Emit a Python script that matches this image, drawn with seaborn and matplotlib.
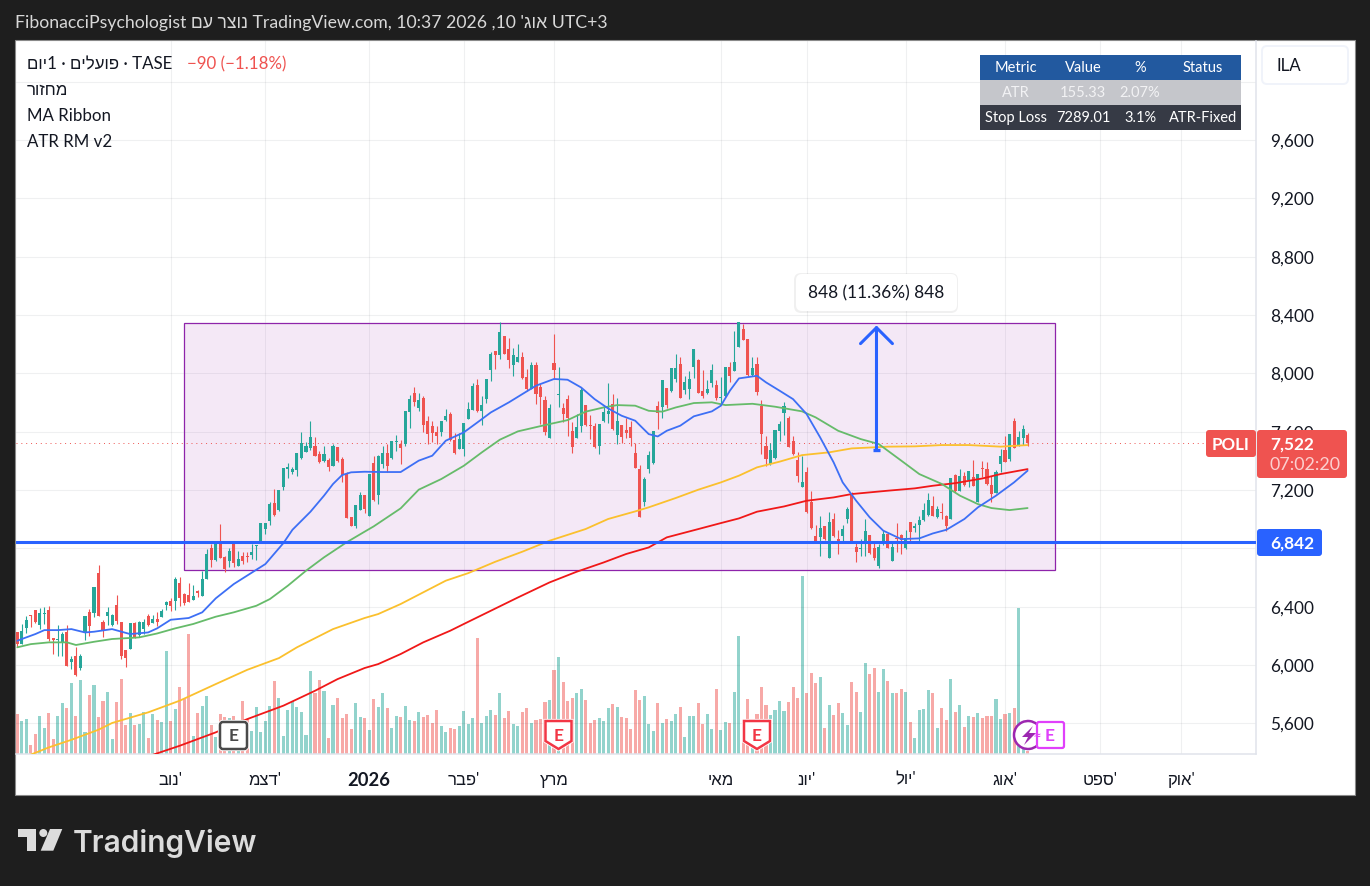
import numpy as np
import pandas as pd
import matplotlib
matplotlib.use("Agg")
import matplotlib.pyplot as plt
import seaborn as sns
from matplotlib.patches import FancyBboxPatch, Polygon, Rectangle, PathPatch, Circle
from matplotlib.path import Path
from matplotlib.transforms import Affine2D, ScaledTranslation
import matplotlib.patheffects as pe

# daily candles, one row of values per ten bars
opens = [
    6228, 6143, 6251, 6342, 6377, 6274, 6349, 6377, 6182, 6173,
    6150, 6228, 6022, 6059, 5977, 6223, 6361, 6356, 6630, 6297,
    6333, 6274, 6411, 6292, 6105, 6109, 6287, 6205, 6246, 6338,
    6287, 6315, 6326, 6411, 6441, 6441, 6559, 6484, 6479, 6447,
    6509, 6475, 6589, 6799, 6722, 6845, 6738, 6715, 6841, 6676,
    6745, 6749, 6754, 6818, 6845, 6932, 6989, 7110, 7065, 7218,
    7343, 7325, 7339, 7417, 7462, 7485, 7503, 7446, 7401, 7407,
    7362, 7492, 7412, 7309, 7012, 6950, 7065, 7167,
    7023, 7385, 7165, 7378, 7453, 7419, 7526, 7515, 7515, 7737,
    7865, 7762, 7833, 7673, 7636, 7595, 7599, 7677, 7718, 7545,
    7481, 7481, 7686, 7750, 7919, 7739, 7823, 8022, 8150, 8127,
    8253, 8166, 8057, 8079, 8111, 7972, 7892, 8057, 7906, 7817,
    7558, 8070, 7851, 7762, 7823, 7606, 7558, 7641, 7782, 7645,
    7641, 7503, 7675, 7723, 7789, 7577, 7645, 7611, 7629, 7453,
    7343, 7119, 7343, 7385, 7773, 7771, 7899, 7881, 7961, 8063,
    7887, 7892, 8041, 8093,
    7881, 7865, 7933, 7919, 7833, 7842, 8043, 8018, 8182, 8303,
    8235, 7988, 8063, 7773, 7503, 7378, 7417, 7606, 7727, 7691,
    7535, 7405, 7222, 7323, 7115, 6882, 6875, 6950, 6731, 7001,
    6863, 6886, 7001, 7179, 6809, 6797, 6836, 6891, 6799, 6676,
    6841, 6898, 6715, 6873, 6891, 6799, 6978, 6941, 6959, 6996,
    7030, 7092, 7012, 7046, 7019, 7001, 7302, 7195, 7293, 7270,
    7291, 7119, 7348, 7343, 7234, 7179, 7378, 7474, 7412, 7673,
    7508, 7554, 7577,
]
closes = [
    6143, 6235, 6308, 6338, 6292, 6356, 6356, 6178, 6173, 6178,
    6212, 5995, 6041, 5931, 6059, 6333, 6269, 6532, 6338, 6235,
    6361, 6342, 6303, 6063, 6045, 6287, 6189, 6297, 6292, 6274,
    6315, 6297, 6372, 6429, 6406, 6589, 6457, 6425, 6434, 6470,
    6493, 6589, 6761, 6722, 6829, 6731, 6658, 6783, 6699, 6726,
    6715, 6738, 6772, 6822, 6973, 6973, 7103, 7028, 7199, 7350,
    7355, 7343, 7453, 7522, 7503, 7563, 7430, 7394, 7446, 7359,
    7499, 7401, 7302, 7010, 6950, 7097, 7165, 7069,
    7309, 7133, 7435, 7451, 7366, 7535, 7533, 7485, 7739, 7823,
    7801, 7817, 7647, 7583, 7590, 7572, 7670, 7705, 7545, 7453,
    7549, 7659, 7755, 7913, 7743, 7782, 7961, 8132, 8125, 8281,
    8132, 8093, 8125, 8109, 7967, 7892, 8057, 7858, 7839, 7595,
    7762, 8025, 7855, 7721, 7691, 7497, 7634, 7887, 7645, 7641,
    7497, 7652, 7732, 7739, 7618, 7675, 7563, 7590, 7558, 7350,
    7017, 7275, 7439, 7602, 7727, 7954, 7782, 8034, 8034, 7830,
    7942, 7961, 8166, 7865,
    7846, 7892, 8025, 7828, 7837, 8043, 7979, 8079, 8349, 8230,
    7988, 8036, 7874, 7586, 7412, 7474, 7611, 7652, 7773, 7497,
    7444, 7298, 7252, 7046, 6937, 6841, 6937, 6863, 6978, 6882,
    6829, 6932, 7069, 6836, 6772, 6804, 6918, 6765, 6731, 6811,
    6898, 6804, 6809, 6863, 6859, 6868, 6909, 6950, 6994, 7060,
    7133, 7023, 7069, 7042, 6950, 7279, 7195, 7298, 7234, 7327,
    7229, 7309, 7343, 7241, 7172, 7321, 7435, 7394, 7583, 7490,
    7565, 7618, 7522,
]
highs = [
    6228, 6281, 6338, 6342, 6377, 6388, 6395, 6402, 6182, 6274,
    6228, 6274, 6063, 6121, 6075, 6333, 6383, 6532, 6685, 6308,
    6395, 6349, 6479, 6297, 6105, 6287, 6292, 6303, 6315, 6349,
    6342, 6365, 6383, 6441, 6457, 6601, 6601, 6493, 6562, 6548,
    6516, 6646, 6795, 6829, 6841, 6966, 6745, 6799, 6841, 6783,
    6772, 6772, 6829, 6822, 6973, 6973, 7115, 7206, 7199, 7350,
    7385, 7355, 7453, 7595, 7531, 7673, 7561, 7469, 7503, 7417,
    7515, 7492, 7423, 7321, 7012, 7097, 7188, 7167,
    7309, 7435, 7439, 7503, 7515, 7535, 7577, 7545, 7739, 7851,
    7903, 7865, 7842, 7709, 7675, 7636, 7675, 7755, 7732, 7590,
    7590, 7659, 7801, 7933, 7961, 7842, 7961, 8143, 8150, 8349,
    8253, 8239, 8171, 8201, 8148, 8029, 8075, 8079, 7926, 7842,
    7789, 8269, 8041, 7796, 7851, 7663, 7721, 7903, 7782, 7714,
    7659, 7652, 7782, 7933, 7858, 7828, 7645, 7691, 7675, 7522,
    7371, 7286, 7469, 7602, 7807, 7954, 7899, 8034, 8132, 8109,
    7983, 8018, 8166, 8098,
    8025, 7956, 8063, 7956, 7972, 8043, 8075, 8292, 8349, 8338,
    8235, 8109, 8109, 7817, 7567, 7522, 7611, 7675, 7801, 7705,
    7567, 7458, 7430, 7355, 7195, 6959, 7019, 6950, 7051, 7042,
    6927, 6959, 7081, 7188, 6836, 6863, 7001, 6891, 6836, 6827,
    6927, 6905, 6836, 6973, 6898, 6927, 6982, 6973, 7023, 7108,
    7179, 7156, 7092, 7110, 7028, 7279, 7309, 7343, 7321, 7332,
    7405, 7309, 7401, 7389, 7293, 7339, 7481, 7572, 7583, 7693,
    7604, 7645, 7590,
]
lows = [
    6121, 6143, 6219, 6258, 6287, 6246, 6281, 6166, 6075, 6063,
    6059, 5995, 5972, 5926, 5967, 6173, 6201, 6326, 6338, 6194,
    6274, 6269, 6281, 6041, 5983, 6109, 6182, 6189, 6212, 6269,
    6287, 6265, 6326, 6379, 6372, 6379, 6406, 6411, 6429, 6447,
    6463, 6475, 6589, 6669, 6715, 6731, 6635, 6669, 6669, 6676,
    6692, 6703, 6726, 6722, 6845, 6898, 6959, 7023, 7058, 7202,
    7279, 7309, 7293, 7412, 7458, 7476, 7430, 7385, 7389, 7332,
    7362, 7394, 7257, 7010, 6950, 6937, 7065, 7042,
    7023, 7126, 7103, 7348, 7325, 7412, 7469, 7378, 7503, 7622,
    7773, 7743, 7595, 7515, 7531, 7515, 7567, 7675, 7538, 7446,
    7481, 7435, 7686, 7750, 7737, 7645, 7796, 7949, 8029, 8098,
    8132, 8034, 7983, 8079, 7961, 7881, 7892, 7789, 7652, 7577,
    7558, 7961, 7766, 7663, 7567, 7453, 7558, 7595, 7641, 7549,
    7485, 7446, 7668, 7659, 7613, 7515, 7522, 7554, 7499, 7348,
    7017, 7092, 7316, 7378, 7618, 7693, 7759, 7869, 7938, 7830,
    7858, 7823, 7965, 7865,
    7828, 7858, 7903, 7819, 7789, 7835, 7938, 8018, 8178, 8230,
    7983, 7983, 7851, 7446, 7362, 7373, 7412, 7538, 7577, 7492,
    7439, 7252, 7222, 7042, 6932, 6836, 6745, 6859, 6731, 6875,
    6761, 6841, 6973, 6836, 6708, 6745, 6749, 6761, 6722, 6662,
    6822, 6799, 6715, 6777, 6761, 6795, 6845, 6909, 6841, 6989,
    7023, 7019, 7005, 7001, 6921, 7001, 7188, 7195, 7225, 7218,
    7225, 7115, 7286, 7234, 7119, 7179, 7321, 7389, 7401, 7485,
    7499, 7508, 7503,
]
volumes = [
    120, 100, 105, 27, 60, 115, 78, 123, 45, 115,
    153, 138, 213, 115, 222, 65, 177, 207, 110, 160,
    187, 45, 157, 225, 88, 123, 88, 90, 125, 48,
    120, 102, 95, 310, 100, 135, 200, 165, 360, 55,
    123, 145, 175, 88, 52, 120, 110, 108, 115, 90,
    160, 105, 70, 142, 65, 100, 145, 220, 168, 55,
    133, 160, 142, 127, 57, 249, 183, 223, 190, 48,
    148, 168, 108, 120, 75, 153, 112, 108,
    72, 165, 142, 183, 138, 78, 115, 111, 144, 102,
    100, 126, 110, 117, 93, 132, 85, 65, 78, 75,
    85, 130, 90, 108, 348, 93, 115, 132, 117, 183,
    108, 130, 90, 85, 127, 138, 93, 102, 105, 157,
    162, 253, 291, 215, 159, 168, 183, 195, 162, 93,
    102, 108, 100, 138, 150, 140, 112, 108, 75, 192,
    162, 174, 90, 68, 153, 93, 105, 100, 120, 141,
    52, 113, 115, 153,
    90, 120, 75, 195, 72, 95, 93, 186, 354, 50,
    165, 50, 120, 200, 147, 117, 132, 158, 129, 155,
    201, 168, 535, 183, 243, 213, 230, 78, 147, 117,
    153, 123, 87, 215, 185, 127, 272, 240, 258, 185,
    255, 219, 183, 183, 195, 185, 95, 48, 132, 135,
    192, 183, 78, 138, 102, 225, 125, 147, 82, 115,
    110, 122, 108, 115, 115, 165, 105, 120, 122, 138,
    438, 15, 10,
]

# moving averages read at selected bars
ma20_bars = [0, 1, 4, 6, 9, 12, 15, 17, 21, 25, 29, 31, 34, 38, 41, 44, 48, 53, 55, 59, 61, 65, 68, 70, 72, 74, 77,
             81, 85, 89, 92, 95, 99, 102, 105, 109, 112, 115, 119, 122, 125, 128, 131, 134, 137, 140, 142, 144, 147, 150,
             154, 156, 158, 160, 164, 166, 169, 172, 175, 178, 181, 183, 186, 189, 192, 196, 200, 203, 206, 210, 213, 217, 221, 224]
ma20_vals = [6166, 6178, 6212, 6239, 6239, 6246, 6223, 6228, 6246, 6212, 6223, 6251, 6310, 6322, 6361, 6457, 6555, 6653, 6692, 6836, 6927, 7051, 7161, 7241, 7302, 7321, 7325,
             7323, 7323, 7401, 7435, 7538, 7595, 7663, 7732, 7801, 7858, 7915, 7961, 7956, 7903, 7823, 7759, 7709, 7675, 7583, 7567, 7606, 7641, 7705,
             7739, 7778, 7881, 7965, 7983, 7938, 7881, 7823, 7721, 7561, 7389, 7252, 7126, 7012, 6921, 6863, 6868, 6902, 6927, 7001, 7081, 7161, 7252, 7332]
ma50_bars = [0, 3, 7, 11, 13, 17, 21, 27, 31, 35, 39, 44, 48, 53, 56, 60, 64, 68, 73, 77,
             79, 85, 89, 94, 99, 103, 107, 111, 117, 122, 126, 130, 133, 137, 140, 143, 146, 150,
             154, 157, 163, 168, 174, 177, 182, 187, 191, 196, 200, 205, 209, 213, 216, 220, 224]
ma50_vals = [6121, 6143, 6155, 6155, 6137, 6159, 6178, 6189, 6216, 6251, 6281, 6331, 6361, 6406, 6452, 6544, 6646, 6738, 6841, 6914,
             6950, 7074, 7202, 7275, 7366, 7458, 7545, 7602, 7645, 7679, 7737, 7766, 7782, 7778, 7743, 7737, 7766, 7796,
             7801, 7782, 7791, 7771, 7739, 7698, 7606, 7549, 7515, 7401, 7309, 7241, 7161, 7103, 7076, 7062, 7076]
ma100_bars = [2, 7, 12, 18, 21, 29, 36, 44, 51, 58, 62, 70, 77,
              80, 85, 90, 95, 100, 106, 112, 118, 126, 131, 137, 140, 146, 151,
              156, 160, 164, 169, 174, 180, 185, 193, 199, 205, 211, 218, 224]
ma100_vals = [5373, 5435, 5487, 5556, 5602, 5675, 5755, 5869, 5967, 6047, 6121, 6246, 6322,
              6349, 6418, 6498, 6578, 6630, 6708, 6777, 6852, 6932, 7001, 7053, 7081, 7145, 7202,
              7252, 7298, 7355, 7394, 7439, 7458, 7485, 7497, 7499, 7508, 7508, 7497, 7508]
ma200_bars = [29, 36, 44, 51, 59, 66, 71, 77, 80, 85, 90, 96, 99, 105, 111, 118, 124, 130, 135, 140, 144, 151,
              156, 160, 164, 170, 175, 181, 185, 193, 199, 203, 208, 214, 218, 224]
ma200_vals = [5373, 5446, 5538, 5629, 5721, 5823, 5903, 5979, 6006, 6075, 6155, 6235, 6281, 6372, 6463, 6566, 6639, 6703, 6761, 6806, 6875, 6932,
              6973, 7005, 7051, 7087, 7126, 7149, 7172, 7195, 7211, 7229, 7247, 7279, 7309, 7343]

price_ticks = [5600, 6000, 6400, 6800, 7200, 7600, 8000, 8400, 8800, 9200, 9600, 10000]
hidden_ticks = [6800, 10000]  # covered by the alert badge / off the labelled range
month_bars = [34, 55, 78, 99, 119, 156, 175, 197, 219, 240, 258]
month_labels = ["'נוב", "'דצמ", "2026", "'פבר", "מרץ", "מאי", "'יונ", "'יול", "'אוג", "'ספט", "'אוק"]

last_price = 7522
alert_price = 6842
box_bars = [37.06, 230.1]
box_prices = [6651, 8348]
measure_bar = 190.5
measure_prices = [7476, 8328]

table_header = ["Metric", "Value", "%", "Status"]
table_atr = ["ATR", "155.33", "2.07%", ""]
table_stop = ["Stop Loss", "7289.01", "3.1%", "ATR-Fixed"]

UP = "#26a69a"
DOWN = "#ef5350"
BLUE = "#2962ff"
INK = "#131722"


def rtl(s):
    # matplotlib has no bidi layout, so Hebrew goes in visual order
    return s[::-1]


sns.set_theme(style="white")
plt.rcParams["font.family"] = ["Lato", "Liberation Sans", "DejaVu Sans"]

df = pd.DataFrame({"bar": np.arange(len(opens)), "open": opens, "high": highs,
                   "low": lows, "close": closes, "volume": volumes})
df["dir"] = np.where(df["close"] >= df["open"], "up", "down")

fig = plt.figure(figsize=(13.7, 8.87), dpi=100, facecolor="#1e1e1e")
px = Affine2D().scale(1, -1).translate(0, 887)  # top-left pixel coordinates


def box(x0, y0, x1, y1, fc, ec="none", lw=0, r=0, z=10, **kw):
    style = f"round,pad=0,rounding_size={r}" if r else "square,pad=0"
    p = FancyBboxPatch((x0, y0), x1 - x0, y1 - y0, boxstyle=style, fc=fc, ec=ec, lw=lw,
                       transform=px, zorder=z, **kw)
    fig.add_artist(p)
    return p


def label(x, y, s, color=INK, size=12.2, ha="left", weight="normal", z=20):
    return fig.text(x, y + 1.5, s, color=color, fontsize=size, ha=ha, va="center",
                    fontweight=weight, transform=px, zorder=z)


box(15, 41, 1355, 796, "white", ec="#8a8a8a", lw=0.8, z=-1)

ax = fig.add_axes([16 / 1370, 1 - 755 / 887, 1240 / 1370, 713 / 887])
ax_vol = ax.twinx()
ax.set_zorder(2)
ax_vol.set_zorder(1)
ax.patch.set_visible(False)

sns.barplot(data=df, x="bar", y="volume", hue="dir", palette={"up": "#92d3cc", "down": "#f7a9a7"},
            native_scale=True, dodge=False, width=0.68, saturation=1, errorbar=None,
            legend=False, linewidth=0, ax=ax_vol)
ax_vol.set_ylim(0, 2139)
ax_vol.set_ylabel("")
ax_vol.yaxis.set_visible(False)
for side in ax_vol.spines.values():
    side.set_visible(False)

ax.add_patch(Rectangle((box_bars[0], box_prices[0]), box_bars[1] - box_bars[0], box_prices[1] - box_prices[0],
                       fc=(0.612, 0.153, 0.69, 0.1), ec="#8e24aa", lw=0.9, zorder=1))

colors = df["dir"].map({"up": UP, "down": DOWN})
ax.vlines(df["bar"], df["low"], df["high"], colors=colors, lw=0.8, zorder=3)
body_low = df[["open", "close"]].min(axis=1)
body_h = (df["close"] - df["open"]).abs().clip(lower=7)
ax.bar(df["bar"], body_h, bottom=body_low, width=0.68, color=colors, lw=0, zorder=3)

sns.lineplot(x=ma200_bars, y=ma200_vals, color="#f01818", lw=1.3, ax=ax, zorder=4)
sns.lineplot(x=ma100_bars, y=ma100_vals, color="#fbc02d", lw=1.3, ax=ax, zorder=4)
sns.lineplot(x=ma50_bars, y=ma50_vals, color="#66bb6a", lw=1.3, ax=ax, zorder=4)
sns.lineplot(x=ma20_bars, y=ma20_vals, color="#3d6ff5", lw=1.3, ax=ax, zorder=4)

ax.axhline(last_price, color=DOWN, lw=0.7, ls=(0, (1, 4)), zorder=2)
ax.axhline(alert_price, color=BLUE, lw=2.2, zorder=5)

ax.annotate("", xy=(measure_bar, measure_prices[1]), xytext=(measure_bar, measure_prices[0]),
            arrowprops=dict(arrowstyle="->,head_length=1.15,head_width=1.15", color=BLUE, lw=2.2,
                            shrinkA=0, shrinkB=0, mutation_scale=10), zorder=6)
ax.hlines(measure_prices[0], measure_bar - 0.8, measure_bar + 0.8, color=BLUE, lw=2.4, zorder=6)

ax.set_xlim(-0.295, 274.65)
ax.set_ylim(5389.5, 10278.7)
ax.yaxis.tick_right()
ax.set_yticks(price_ticks, ["" if p in hidden_ticks else f"{p:,}" for p in price_ticks])
ax.set_xticks(month_bars, [m if m.isdigit() else rtl(m) for m in month_labels])
ax.set_xlabel("")
ax.set_ylabel("")
ax.grid(True, color="#2a2e39", alpha=0.07, lw=0.8)
ax.set_axisbelow(True)
ax.tick_params(axis="both", length=0, colors=INK, labelsize=12.4)
ax.tick_params(axis="y", pad=10)
ax.tick_params(axis="x", pad=12, labelsize=12)
ax.get_xticklabels()[2].set_fontweight("bold")
ax.get_xticklabels()[2].set_fontsize(13.2)
for tick_label in ax.get_yticklabels():
    tick_label.set_transform(tick_label.get_transform() + ScaledTranslation(0, 0.01, fig.dpi_scale_trans))
for name, side in ax.spines.items():
    side.set_visible(name in ("right", "bottom"))
    side.set_color("#e0e3eb")
    side.set_linewidth(1.1)

# header above the panel and legend lines
label(15, 22, "FibonacciPsychologist " + rtl("נוצר עם") + " TradingView.com, 10:37 2026 ,10 " + rtl("אוג'") + " UTC+3",
      color="#d8d8d8", size=12.7)
label(27, 63, rtl("יום") + "1 · " + rtl("פועלים") + " · TASE")
label(187, 63, "−90 (−1.18%)", color=DOWN)
label(27, 89, rtl("מחזור"))
label(27, 115, "MA Ribbon")
label(27, 141, "ATR RM v2")

# ATR table
box(980, 56, 1241, 81, "#22599f")
box(980, 81, 1241, 106, "#c5c6cb")
box(980, 106, 1241, 131, "#363a45")
col_x = [1016, 1083, 1140, 1203]
for row, y, c in [(table_header, 67, "white"), (table_atr, 92, "#f2f2f4"), (table_stop, 117, "white")]:
    for x, s in zip(col_x, row):
        label(x, y, s, color=c, size=10.5, ha="center")

# currency button
box(1262, 47, 1348, 85, "white", ec="#f0f3fa", lw=1.4, r=5)
label(1276, 65, "ILA", size=12.2)

# price badges on the scale
box(1206, 431, 1256, 458, DOWN, r=3)
label(1231, 444, "POLI", color="white", size=12.2, ha="center", weight="bold")
box(1257, 431, 1347, 479, DOWN, r=3)
label(1270, 443, f"{last_price:,}", color="white", size=12.4, weight="bold")
label(1270, 464, "07:02:20", color="#fbd0cf", size=12.9)
box(1257, 530, 1322, 557, BLUE, r=3)
label(1270, 542, f"{alert_price:,}", color="white", size=12.4, weight="bold")

# measure label
box(794, 274, 958, 314, (0, 0, 0, 0.06), r=7, z=11)
box(796, 275, 957, 312, "white", r=6, z=12)
label(876, 292, "848 (11.36%) 848", size=12.4, ha="center")

# earnings and dividend markers
halo = [pe.withStroke(linewidth=3, foreground="white")]
b = box(220, 723, 247, 750, "white", ec="#4a4a4a", lw=1.8, r=3, z=12)
b.set_path_effects(halo)
label(233.5, 735, "E", color="#4a4a4a", size=12.5, ha="center", weight="bold")
for cx in [558.5, 757]:
    shield = Polygon([(cx - 13, 722), (cx + 13, 722), (cx + 13, 742), (cx, 750), (cx - 13, 742)],
                     closed=True, fc="white", ec="#f23645", lw=1.8, transform=px, zorder=12)
    shield.set_path_effects(halo)
    fig.add_artist(shield)
    label(cx, 734.5, "E", color="#f23645", size=12.5, ha="center", weight="bold")

fig.add_artist(Circle((1028, 736), 14, fc="white", ec="none", transform=px, zorder=12))
arc = Path.arc(50, 310).transformed(Affine2D().scale(14).translate(1028, 736))
fig.add_artist(PathPatch(arc, fc="none", ec="#9c27b0", lw=1.8, transform=px, zorder=13))
fig.add_artist(Polygon([(1033, 727), (1022, 738), (1028, 738), (1024, 746), (1036, 734), (1029, 734)],
                       closed=True, fc="#9c27b0", ec="none", transform=px, zorder=14))
box(1037, 723, 1064, 749, "white", ec="#e040fb", lw=1.6, r=2, z=13)
label(1037, 734.5, "≈", color="#e040fb", size=11, ha="center", z=21)
label(1050, 734.5, "E", color="#e040fb", size=12.5, ha="center", weight="bold")

# TradingView mark
fig.add_artist(Polygon([(18.3, 830), (36, 830), (36, 851.7), (26.7, 851.7), (26.7, 838.3), (18.3, 838.3)],
                       closed=True, fc="#dcdcdc", ec="none", transform=px, zorder=5))
fig.add_artist(Circle((43.3, 834), 4, fc="#dcdcdc", ec="none", transform=px, zorder=5))
fig.add_artist(Polygon([(50, 830), (62.3, 830), (53.3, 851.7), (40.7, 851.7)],
                       closed=True, fc="#dcdcdc", ec="none", transform=px, zorder=5))
fig.text(73, 851.7, "TradingView", color="#dcdcdc", fontsize=21.5, fontfamily="Inter", fontweight="semibold",
         ha="left", va="baseline", transform=px)

fig.savefig("out.png", dpi=100, facecolor=fig.get_facecolor())
